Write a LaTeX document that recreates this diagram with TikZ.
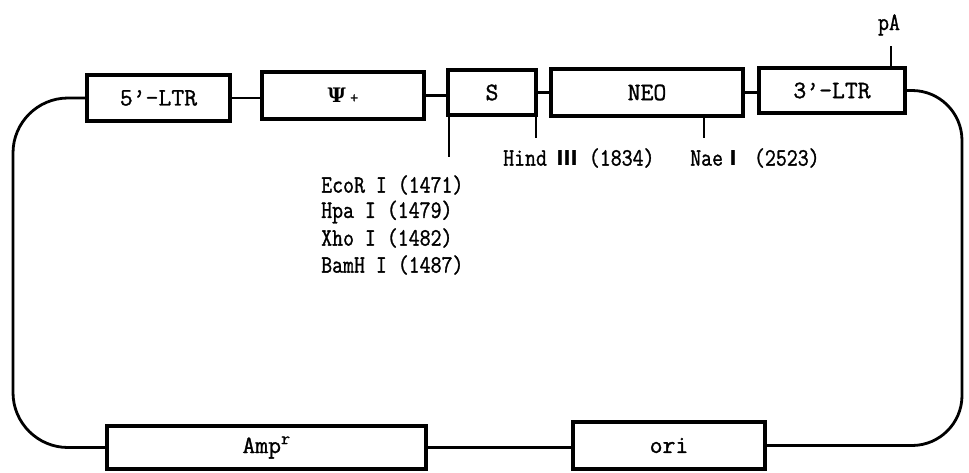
\documentclass[tikz,border=0pt]{standalone}
\usepackage{fontspec}
\newfontfamily\cjk{Noto Sans CJK SC}
\newfontfamily\dvserif{DejaVu Serif}
\newfontfamily\boxff[FakeBold=1.2]{Latin Modern Mono}
\newfontfamily\lblff[FakeStretch=0.85,FakeBold=1.2]{Latin Modern Mono}
\newcommand{\myboxfont}{\boxff\fontsize{25}{29}\selectfont}
\newcommand{\mylblfont}{\lblff\fontsize{25}{29}\selectfont}
\begin{document}
\begin{tikzpicture}[x=1pt,y=-1pt,
  box/.style={draw, line width=3.4pt, inner sep=0pt, outer sep=0pt, font=\myboxfont},
  conn/.style={line width=2.6pt},
  curve/.style={line width=2.8pt},
  lbl/.style={anchor=west, inner sep=0pt, font=\mylblfont}]
\useasboundingbox (0,0) rectangle (969,472);
% top row boxes
\node[box, minimum width=143pt, minimum height=46pt] (ltr5) at (158.5,98) {5’-LTR};
\node[box, minimum width=162pt, minimum height=47pt] (psi) at (343,95.5) {{\dvserif\bfseries\fontsize{20}{20}\selectfont Ψ}\,{\fontsize{16}{16}\selectfont +}};
\node[box, minimum width=88pt, minimum height=45pt] (s) at (492,92.5) {S};
\node[box, minimum width=192pt, minimum height=47pt] (neo) at (647,92.5) {NEO};
\node[box, minimum width=146pt, minimum height=45pt] (ltr3) at (832,90.5) {3’-LTR};
% bottom row boxes
\node[box, minimum width=319pt, minimum height=43pt] (amp) at (266.5,447.5) {Amp\textsuperscript{r}};
\node[box, minimum width=192pt, minimum height=47pt] (ori) at (669,445.5) {ori};
% connectors top row
\draw[conn] (ltr5.east) -- (ltr5.east -| psi.west);
\draw[conn] (psi.east) -- (psi.east -| s.west);
\draw[conn] (s.east) -- (s.east -| neo.west);
\draw[conn] (neo.east) -- (neo.east -| ltr3.west);
% bottom connector
\draw[conn] (amp.east) -- (amp.east -| ori.west);
% loop sides
\coordinate (lft) at (13,270);
\coordinate (rgt) at (962,270);
\draw[curve, rounded corners=55pt] (ltr5.west) -| (lft) |- (amp.west);
\draw[curve, rounded corners=50pt] (ltr3.east) -| (rgt) |- (ori.east);
% ticks
\coordinate (t1) at (449,157);
\coordinate (t2) at (536,138);
\coordinate (t3) at (704,138);
\coordinate (t4) at (891,46);
\draw[conn] (t1 |- s.south) -- (t1);
\draw[conn] (t2 |- s.south) -- (t2);
\draw[conn] (t3 |- neo.south) -- (t3);
\draw[conn] (t4 |- ltr3.north) -- (t4);
% labels
\node[lbl] (eco) at (321,185) {EcoR I (1471)};
\node[lbl] (hpa) at (321,212) {Hpa I (1479)};
\node[lbl] (xho) at (321,238) {Xho I (1482)};
\node[lbl] (bam) at (321,265) {BamH I (1487)};
\node[lbl] (hind) at (503,158) {Hind {\cjk\bfseries\fontsize{20}{20}\selectfont Ⅲ} (1834)};
\node[lbl] (nae) at (690,158) {Nae{\cjk\bfseries\fontsize{20}{20}\selectfont Ⅰ} (2523)};
\node[font=\mylblfont, inner sep=0pt] (pa) at (889,25) {pA};
\end{tikzpicture}
\end{document}
